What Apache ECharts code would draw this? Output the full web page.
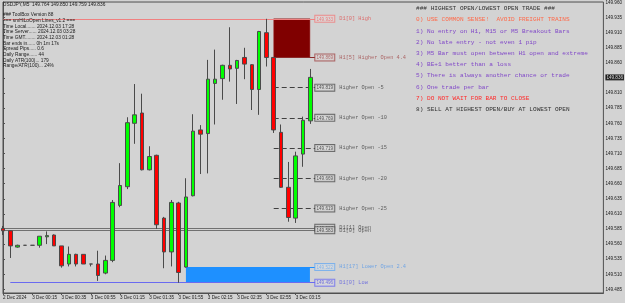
<!DOCTYPE html>
<html><head><meta charset="utf-8">
<script src="https://cdn.jsdelivr.net/npm/echarts@6/dist/echarts.min.js"></script>
<style>html,body{margin:0;padding:0;background:#d3d3d3;overflow:hidden}#c{width:625px;height:303px}</style>
</head><body><div id="c"></div>
<script>
// ---- data ----
const opens  = [149.586,149.582,149.555,149.558,149.558,149.558,149.572,149.575,149.557,149.527,149.543,149.543,149.527,149.527,149.512,149.533,149.624,149.655,149.760,149.777,149.683,149.707,149.603,149.547,149.628,149.522,149.640,149.749,149.743,149.826,149.834,149.856,149.851,149.869,149.857,149.816,149.910,149.869,149.745,149.654,149.603,149.709,149.764];
const closes = [149.582,149.557,149.558,149.558,149.558,149.573,149.574,149.557,149.524,149.543,149.527,149.527,149.527,149.508,149.533,149.629,149.657,149.761,149.774,149.683,149.705,149.592,149.547,149.629,149.513,149.638,149.747,149.742,149.833,149.833,149.856,149.850,149.864,149.858,149.816,149.912,149.869,149.749,149.654,149.604,149.706,149.765,149.836];
const lows   = [149.575,149.537,149.554,149.558,149.558,149.554,149.560,149.557,149.521,149.523,149.523,149.527,149.523,149.499,149.510,149.530,149.621,149.651,149.726,149.682,149.682,149.585,149.520,149.523,149.496,149.521,149.639,149.676,149.677,149.758,149.799,149.829,149.792,149.833,149.782,149.774,149.854,149.744,149.653,149.597,149.595,149.688,149.759];
const highs  = [149.590,149.583,149.559,149.558,149.558,149.573,149.581,149.576,149.557,149.556,149.544,149.543,149.527,149.549,149.541,149.633,149.694,149.770,149.825,149.809,149.722,149.708,149.605,149.633,149.630,149.669,149.775,149.757,149.865,149.882,149.857,149.919,149.865,149.885,149.858,149.913,149.933,149.869,149.758,149.696,149.713,149.771,149.850];
const timeTickIdx = [0,4,8,12,16,20,24,28,32,36,40];
const timeTickLabels = ['2 Dec 2024','3 Dec 00:15','3 Dec 00:35','3 Dec 00:55','3 Dec 01:15','3 Dec 01:35','3 Dec 01:55','3 Dec 02:15','3 Dec 02:35','3 Dec 02:55','3 Dec 03:15'];
const priceTicks = [149.485,149.510,149.535,149.560,149.585,149.610,149.635,149.660,149.685,149.710,149.735,149.760,149.785,149.810,149.835,149.860,149.885,149.910,149.935,149.960];
const levelNames  = ['D1[0] High','H1[5] Higher Open 4.4','Higher Open -5','Higher Open -10','Higher Open -15','Higher Open -20','Higher Open -25','D1[1] Open','D1[0] Open','H1[17] Lower Open 2.4','D1[0] Low'];
const levelPrices = [149.933,149.869,149.819,149.769,149.719,149.669,149.619,149.587,149.583,149.522,149.496];
const levelStartBar = [0,37,37,37,37,37,37,0,0,25,1];
const bidPrice = 149.836;
const headerText = 'USDJPY,M5  149.764 149.850 149.759 149.836';
const infoLines = ['### ToolBox Version 88','=== smHiLoOpen Lines_v1.2 ===','Time Local....... 2024.12.03 17:28','Time Server...... 2024.12.03 03:28','Time GMT........ 2024.12.03 01:28','Bar ends in...... 0h 1m 17s','Spread Pips..... 0.6','Daily Range...... 44','Daily ATR(100)... 179','Range/ATR(100)... 24%'];
const ruleLines = ['### HIGHEST OPEN/LOWEST OPEN TRADE ###','0) USE COMMON SENSE!  AVOID FREIGHT TRAINS','1) No entry on H1, M15 or M5 Breakout Bars','2) No late entry - not even 1 pip','3) M5 Bar must open between H1 open and extreme','4) BE+1 better than a loss','5) There is always another chance or trade','6) One trade per bar','7) DO NOT WAIT FOR BAR TO CLOSE','8) SELL AT HIGHEST OPEN/BUY AT LOWEST OPEN'];

// ---- styles ----
const levelStyle = [
  {line:'#f08080', type:'solid', box:'#f08080', boxText:'#f06060', name:'#e05050'},
  {line:'#8b2a2a', type:'solid', box:'#a04848', boxText:'#a04848', name:'#a04848'},
  {line:'#404040', type:'dashed', box:'#505050', boxText:'#303030', name:'#404040'},
  {line:'#404040', type:'dashed', box:'#505050', boxText:'#303030', name:'#404040'},
  {line:'#404040', type:'dashed', box:'#505050', boxText:'#303030', name:'#404040'},
  {line:'#404040', type:'dashed', box:'#505050', boxText:'#303030', name:'#404040'},
  {line:'#404040', type:'dashed', box:'#505050', boxText:'#303030', name:'#404040'},
  {line:'#707070', type:'solid', box:'#505050', boxText:'#303030', name:'#404040'},
  {line:'#707070', type:'solid', box:'#505050', boxText:'#303030', name:'#404040'},
  {line:'#1e90ff', type:'solid', box:'#6aaaf0', boxText:'#6aaaf0', name:'#5a9ae8'},
  {line:'#6a6af0', type:'solid', box:'#6a6af0', boxText:'#5050e0', name:'#5a5ae0'}
];
const ruleColors = ['#303030','#ff6a4a','#8048c8','#8048c8','#8048c8','#8048c8','#8048c8','#8048c8','#ff2a2a','#303030'];
const lineEndX = 42.68;

const chart = echarts.init(document.getElementById('c'), null, {renderer:'canvas'});
const candleData = opens.map((o,i)=>[i,o,closes[i],lows[i],highs[i]]);

const levelLines = levelPrices.map((p,i)=>[
  {coord:[levelStartBar[i], p], lineStyle:{color:levelStyle[i].line, type:levelStyle[i].type==='dashed'?[5,3]:'solid', width:1}},
  {coord:[lineEndX, p]}
]);
levelLines.push([
  {coord:[-1, bidPrice], lineStyle:{color:'#9aa6b4', width:1, type:'solid'}},
  {coord:[82.1, bidPrice]}
]);

const labelData = levelPrices.map((p,i)=>({
  value:[lineEndX, p],
  label:{
    show:true, position:'right', distance:0,
    formatter:'{b|'+p.toFixed(3)+'}{n|'+levelNames[i]+'}',
    rich:{
      b:{fontFamily:'Liberation Sans', fontSize:4.6, color:levelStyle[i].boxText, backgroundColor:'#dcdcdc', borderColor:levelStyle[i].box, borderWidth:1, padding:[1,1,0,1], width:17, align:'center'},
      n:{fontFamily:'Liberation Mono', fontSize:5.3, color:levelStyle[i].name, padding:[0,0,0,5]}
    }
  }
}));

const graphics = [];
graphics.push({type:'text', left:3, top:2, style:{text:headerText, font:'4.8px "Liberation Sans"', fill:'#202020'}, z:10});
const infoY = [15,20.7,26.3,32,37.6,43.3,49,54.6,60.2,65.8];
infoLines.forEach((t,i)=>graphics.push({type:'text', x:3, y:infoY[i], style:{text:t, font:'4.8px "Liberation Sans"', fill:'#202020', textVerticalAlign:'middle'}, z:10}));
ruleLines.forEach((t,i)=>graphics.push({type:'text', x:416, y:8.5+11.2*i, style:{text:t, font:'6.1px "Liberation Mono"', fill:ruleColors[i], textVerticalAlign:'middle'}, z:10}));

chart.setOption({
  backgroundColor:'#d3d3d3',
  animation:false,
  grid:{left:1.7, right:21, top:2, bottom:10, show:true, borderColor:'#505050', borderWidth:1, backgroundColor:'transparent'},
  xAxis:{type:'value', min:0, max:82.06, 
    axisLine:{show:true, lineStyle:{color:'#505050'}},
    axisTick:{show:true, customValues:timeTickIdx, length:2, lineStyle:{color:'#505050'}},
    axisLabel:{customValues:timeTickIdx, formatter:(v)=>{const k=timeTickIdx.indexOf(Math.round(v)); return k>=0?timeTickLabels[k]:'';}, align:'left', margin:2, fontSize:4.6, fontFamily:'Liberation Sans', color:'#202020'},
    splitLine:{show:false}},
  yAxis:{type:'value', position:'right', min:149.4790, max:149.9608, scale:true,
    axisLine:{show:true, lineStyle:{color:'#505050'}},
    axisTick:{show:true, customValues:priceTicks, length:2, lineStyle:{color:'#505050'}},
    axisLabel:{customValues:priceTicks, formatter:(v)=>v.toFixed(3), margin:2, fontSize:4.6, fontFamily:'Liberation Sans', color:'#202020'},
    splitLine:{show:false}},
  graphic:graphics,
  series:[
    {type:'candlestick', data:candleData, encode:{x:0, y:[1,2,3,4]}, barWidth:4, clip:true,
     itemStyle:{color:'#00ff00', color0:'#ff0000', borderColor:'#4a4a4a', borderColor0:'#4a4a4a', borderWidth:1},
     markArea:{silent:true, data:[
       [{coord:[37, levelPrices[0]], itemStyle:{color:'#800000', borderColor:'#a03030', borderWidth:0.5}}, {coord:[41.95, levelPrices[1]]}],
       [{coord:[25, levelPrices[9]], itemStyle:{color:'#1e90ff'}}, {coord:[41.95, levelPrices[10]]}]
     ]},
     markLine:{silent:true, symbol:['none','none'], label:{show:false}, data:levelLines, z:1}
    },
    {type:'scatter', data:labelData, symbolSize:0, silent:true, clip:false, z:5},
    {type:'scatter', data:[{value:[82.06, bidPrice], label:{show:true, position:'right', distance:2, formatter:bidPrice.toFixed(3), fontSize:4.6, fontFamily:'Liberation Sans', color:'#ffffff', backgroundColor:'#000000', padding:[1,1,0,1]}}], symbolSize:0, silent:true, clip:false, z:6}
  ]
});
</script></body></html>
